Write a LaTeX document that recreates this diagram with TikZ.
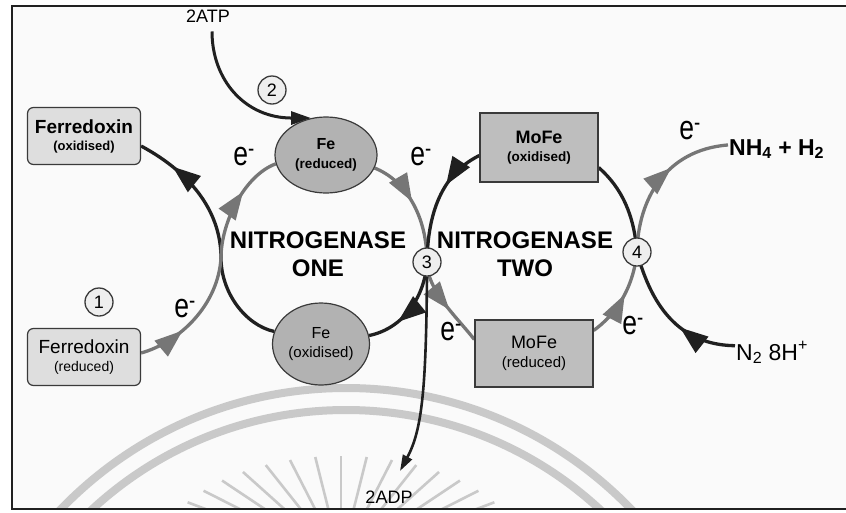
\documentclass[tikz,border=0pt]{standalone}
\usepackage{fontspec}
\setmainfont{Liberation Sans}
\newfontfamily\efont[FakeStretch=0.78]{Liberation Sans}
\usetikzlibrary{arrows.meta,decorations.markings,shapes.geometric}

\definecolor{flowgrey}{HTML}{767676}
\definecolor{flowdark}{HTML}{202020}
\definecolor{fdfill}{HTML}{DEDEDE}
\definecolor{fefill}{HTML}{B2B2B2}
\definecolor{mofill}{HTML}{BEBEBE}
\definecolor{numfill}{HTML}{EEEEEE}
\definecolor{edgeline}{HTML}{3A3A3A}
\definecolor{wmgrey}{HTML}{C9C9C9}
\definecolor{paper}{HTML}{FAFAFA}

\newcommand\fsz[2]{\fontsize{#1}{#2}\selectfont}

\pgfdeclarelayer{wm}
\pgfdeclarelayer{flow}
\pgfsetlayers{wm,flow,main}

\tikzset{
  fdbox/.style={rectangle, rounded corners=6pt, draw=edgeline, line width=1.2pt,
    fill=fdfill, minimum width=113pt, minimum height=57pt, inner sep=0pt, align=center},
  febox/.style={ellipse, draw=edgeline, line width=1.2pt, fill=fefill,
    minimum width=102pt, minimum height=76pt, inner sep=0pt, align=center},
  mobox/.style={rectangle, draw=edgeline, line width=1.3pt, fill=mofill,
    minimum width=118pt, minimum height=69pt, inner sep=0pt, align=center},
  stepnum/.style={circle, draw=edgeline, line width=1.3pt, fill=numfill,
    minimum size=28pt, inner sep=0pt, font=\fsz{18}{18}},
  biglabel/.style={align=center, inner sep=0pt, font=\fsz{24}{28}\bfseries},
  elabel/.style={inner sep=0pt, font=\efont\fsz{34}{34}},
  smalltext/.style={inner sep=1pt, font=\fsz{18}{18}},
  greyflow/.style={draw=flowgrey, line width=3.3pt},
  darkflow/.style={draw=flowdark, line width=3.3pt},
  tipat/.style 2 args={postaction={decorate, decoration={markings,
    mark=at position #1 with {\arrow{Triangle[length=28pt,width=20pt,color=#2]}}}}}
}

\begin{document}
\begin{tikzpicture}[x=1pt,y=-1pt]
\useasboundingbox (0,0) rectangle (846,512);

% paper, faint emblem behind the diagram, and the frame
\begin{pgfonlayer}{wm}
  \fill[white] (0,0) rectangle (846,512);
  \fill[paper] (12,6) rectangle (846,509);
  \begin{scope}
    \clip (13,7) rectangle (846,508);
    \draw[wmgrey, line width=8pt] (346,784) circle [radius=396pt];
    \draw[wmgrey, line width=8pt] (346,784) circle [radius=374pt];
    \foreach \t in {10,18,...,170}
      \draw[wmgrey, line width=2.6pt]
        ({341+60*cos(\t)},{561-35*sin(\t)}) -- ({341+185*cos(\t)},{561-105*sin(\t)});
  \end{scope}
  \draw[flowdark, line width=2pt] (850,6) -- (12,6) -- (12,509) -- (850,509);
\end{pgfonlayer}

% carriers
\node[fdbox, font=\fsz{13}{17}\bfseries] (FdOx) at (84,136) {{\fsz{19}{19}Ferredoxin}\\(oxidised)};
\node[fdbox, font=\fsz{14}{18}] (FdRed) at (84,357) {{\fsz{19}{19}Ferredoxin}\\(reduced)};
\node[febox, font=\fsz{13.5}{19}\bfseries] (FeRed) at (326,155) {{\fsz{16}{16}Fe}\\(reduced)};
\node[febox, font=\fsz{15}{19}, minimum width=97pt, minimum height=82pt] (FeOx) at (321,344) {{\fsz{16}{16}Fe}\\(oxidised)};
\node[mobox, font=\fsz{13.5}{18}\bfseries] (MoFeOx) at (539,147.5) {{\fsz{18}{18}MoFe}\\(oxidised)};
\node[mobox, font=\fsz{15}{19}, minimum height=67pt] (MoFeRed) at (534,353.5) {{\fsz{18}{18}MoFe}\\(reduced)};

% numbered steps
\node[stepnum] (c1) at (99,302) {1};
\node[stepnum] (c2) at (272,90) {2};
\node[stepnum] (c3) at (427,262) {3};
\node[stepnum] (c4) at (637,252) {4};

% cycle names
\node[biglabel] (one) at (318,254) {NITROGENASE\\ONE};
\node[biglabel] (two) at (525,254) {NITROGENASE\\TWO};

% substrates and products
\node[smalltext] (atp) at (208,16) {2ATP};
\node[smalltext] (adp) at (389,497) {2ADP};
\node[anchor=base west, inner sep=1pt, font=\fsz{23}{23}\bfseries] (nh) at (728,155) {NH\textsubscript{4} + H\textsubscript{2}};
\node[anchor=base west, inner sep=1pt, font=\fsz{23}{23}] (n2) at (735,360) {N\textsubscript{2} 8H\textsuperscript{+}};

% electron labels
\node[elabel] (e1) at (244,157) {e\textsuperscript{-}};
\node[elabel] (e2) at (421,157) {e\textsuperscript{-}};
\node[elabel] (e3) at (185,309) {e\textsuperscript{-}};
\node[elabel] (e4) at (451,332) {e\textsuperscript{-}};
\node[elabel] (e5) at (633,326) {e\textsuperscript{-}};
\node[elabel] (e6) at (690,131) {e\textsuperscript{-}};

% points where the two strands of a cycle meet
\coordinate (k1) at (221,258);
\coordinate (adpend) at (400,471);

\begin{pgfonlayer}{flow}
  % Nitrogenase one, left side
  \draw[darkflow] (FeOx.165) .. controls (245,325) and (221,292) .. (k1);
  \draw[darkflow, tipat={0.74}{flowdark}] (k1) .. controls (221,215) and (195,175) .. ([yshift=-10pt]FdOx.east);
  \draw[greyflow, tipat={0.36}{flowgrey}] ([yshift=4pt]FdRed.east) .. controls (180,342) and (218,305) .. (k1);
  \draw[greyflow, tipat={0.62}{flowgrey}] (k1) .. controls (221,222) and (245,175) .. (FeRed.190);

  % step 3, between the two cycles
  \draw[greyflow, tipat={0.45}{flowgrey}] (FeRed.345) .. controls (405,180) and (427,215) .. (c3.center);
  \draw[greyflow, tipat={0.58}{flowgrey}] (c3.center) .. controls (427,290) and (455,315) .. ([yshift=14pt]MoFeRed.west);
  \draw[darkflow, tipat={0.36}{flowdark}] ([yshift=-8pt]MoFeOx.west) .. controls (450,170) and (428,200) .. (c3.center);
  \draw[darkflow, tipat={0.68}{flowdark}] (c3.center) .. controls (425,295) and (405,328) .. (FeOx.10);

  % step 4, Nitrogenase two, right side
  \draw[darkflow] ([yshift=-20pt]MoFeOx.east) .. controls (622,188) and (634,215) .. (c4.center);
  \draw[darkflow, tipat={0.4}{flowdark}] ([yshift=7pt]n2.west) .. controls (690,345) and (655,320) .. (c4.center);
  \draw[greyflow, tipat={0.52}{flowgrey}] ([yshift=23pt]MoFeRed.east) .. controls (615,315) and (633,290) .. (c4.center);
  \draw[greyflow, tipat={0.6}{flowgrey}] (c4.center) .. controls (638,200) and (665,150) .. ([yshift=4pt]nh.west);

  % ATP in, ADP out
  \draw[darkflow, line width=3pt, -{Triangle[length=20pt,width=13pt]}]
    ([xshift=4pt,yshift=-8pt]atp.south) .. controls (212,80) and (245,118) .. (FeRed.112);
  \draw[darkflow, line width=2.6pt, -{Triangle[length=16pt,width=10pt]}]
    (c3.south) .. controls (426,390) and (422,430) .. (adpend);
\end{pgfonlayer}
\end{tikzpicture}
\end{document}
